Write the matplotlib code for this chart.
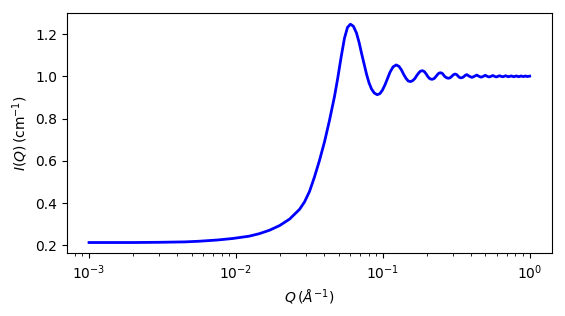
import matplotlib
matplotlib.use("Agg")
import matplotlib.pyplot as plt

# Values
q = [0.001, 0.002, 0.003, 0.0045, 0.0056, 0.0075, 0.0095, 0.0123, 0.01445, 0.0169,
     0.0198, 0.0232, 0.0271, 0.0293, 0.0317, 0.0342, 0.0370, 0.0401, 0.0433, 0.0469,
     0.0493, 0.0520, 0.0548, 0.0575, 0.0602, 0.0631, 0.0662, 0.0690, 0.0716, 0.0745,
     0.0775, 0.0805, 0.0838, 0.0875, 0.0916, 0.0955, 0.0995, 0.1035,
     0.107, 0.112, 0.1175, 0.1234, 0.129, 0.134, 0.139, 0.144,
     0.149, 0.1545, 0.160, 0.1655, 0.170, 0.175, 0.180, 0.186, 0.192, 0.197,
     0.202, 0.207, 0.212, 0.217, 0.223, 0.228, 0.233, 0.238, 0.243, 0.2485,
     0.255, 0.2635, 0.272, 0.2795, 0.287, 0.295, 0.303, 0.311, 0.3185, 0.3265,
     0.334, 0.342, 0.350, 0.358, 0.366, 0.3735, 0.389, 0.4045, 0.420, 0.436,
     0.452, 0.467, 0.483, 0.4985, 0.514, 0.5295, 0.545, 0.561, 0.577, 0.592,
     0.608, 0.6235, 0.639, 0.6545, 0.670, 0.686, 0.702, 0.717, 0.733, 0.7485,
     0.764, 0.7795, 0.795, 0.811, 0.827, 0.842, 0.858, 0.8735, 0.889, 0.9045,
     0.920, 0.936, 0.952, 0.967, 0.983, 1.0]
intensity = [0.213, 0.213, 0.214, 0.216, 0.219, 0.225, 0.232, 0.243, 0.255, 0.271,
             0.293, 0.324, 0.370, 0.405, 0.455, 0.522, 0.600, 0.690, 0.790, 0.905,
             0.990, 1.090, 1.180, 1.232, 1.247, 1.237, 1.205, 1.160, 1.110, 1.060,
             1.010, 0.970, 0.940, 0.921, 0.913, 0.918, 0.935, 0.960,
             0.985, 1.020, 1.045, 1.054, 1.047, 1.030, 1.008, 0.990,
             0.978, 0.975, 0.980, 0.990, 1.003, 1.015, 1.024, 1.027, 1.022, 1.012,
             1.000, 0.991, 0.987, 0.986, 0.989, 0.996, 1.004, 1.012, 1.016, 1.017,
             1.013, 1.000, 0.993, 0.991, 0.993, 1.000, 1.008, 1.011, 1.008, 1.000,
             0.994, 0.993, 0.995, 1.000, 1.006, 1.008, 1.000, 0.995, 1.000, 1.006,
             1.000, 0.996, 1.000, 1.005, 1.000, 0.997, 1.000, 1.004, 1.000, 0.997,
             1.000, 1.003, 1.000, 0.998, 1.000, 1.003, 1.000, 0.998, 1.000, 1.002,
             1.000, 0.998, 1.000, 1.002, 1.000, 0.998, 1.000, 1.002, 1.000, 0.999,
             1.000, 1.002, 1.000, 0.999, 1.000, 1.001]

fig = plt.figure(figsize=(5.65, 3.16), dpi=100)
ax = fig.add_axes([0.1186, 0.198, 0.9765 - 0.1186, 0.958 - 0.198])
ax.plot(q, intensity, color="blue", linewidth=2)
ax.set_xscale("log")
ax.set_xlabel(r"$Q\,(\AA^{-1})$")
ax.set_ylabel(r"$I(Q)\,(\mathrm{cm}^{-1})$")
fig.savefig("out.png", dpi=100)
